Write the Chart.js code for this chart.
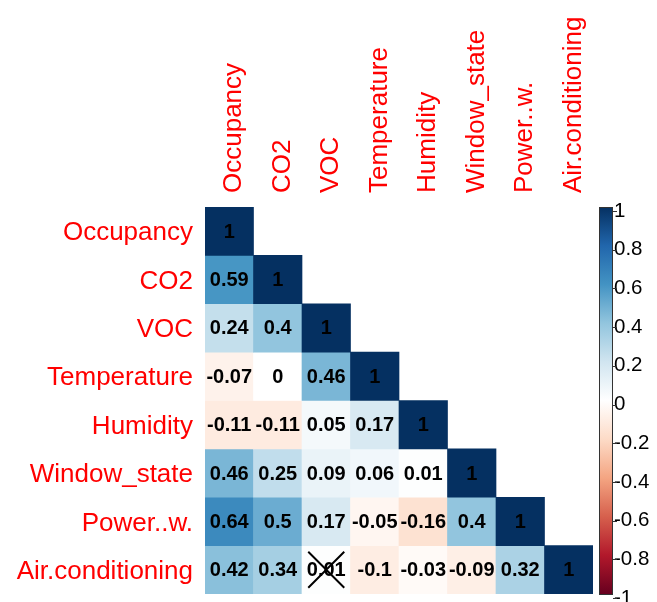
<!DOCTYPE html>
<html>
<head>
<meta charset="utf-8">
<script src="https://cdn.jsdelivr.net/npm/chart.js@4.4.1/dist/chart.umd.min.js"></script>
<style>
  html, body { margin: 0; padding: 0; background: #ffffff; }
  #wrap { width: 657px; height: 602px; }
</style>
</head>
<body>
<div id="wrap"><canvas id="corr" width="657" height="602"></canvas></div>
<script>
// Variables, in matrix order
const variables = ['Occupancy', 'CO2', 'VOC', 'Temperature', 'Humidity', 'Window_state', 'Power..w.', 'Air.conditioning'];

// Lower-triangle correlation coefficients, one row per variable
const occupancyRow   = [1];
const co2Row         = [0.59, 1];
const vocRow         = [0.24, 0.4, 1];
const temperatureRow = [-0.07, 0, 0.46, 1];
const humidityRow    = [-0.11, -0.11, 0.05, 0.17, 1];
const windowRow      = [0.46, 0.25, 0.09, 0.06, 0.01, 1];
const powerRow       = [0.64, 0.5, 0.17, -0.05, -0.16, 0.4, 1];
const airconRow      = [0.42, 0.34, 0.01, -0.1, -0.03, -0.09, 0.32, 1];

// Pairs (row, column) whose correlation is not significant
const insignificantPairs = [[7, 2]];

// Colour legend tick values
const legendTicks = [1, 0.8, 0.6, 0.4, 0.2, 0, -0.2, -0.4, -0.6, -0.8, -1];

// Diverging red-white-blue palette from -1 to 1
const palette = ['#67001F', '#B2182B', '#D6604D', '#F4A582', '#FDDBC7', '#FFFFFF',
                 '#D1E5F0', '#92C5DE', '#4393C3', '#2166AC', '#053061'];

const matrix = [occupancyRow, co2Row, vocRow, temperatureRow, humidityRow, windowRow, powerRow, airconRow];

function hexToRgb(h) {
  return [parseInt(h.slice(1, 3), 16), parseInt(h.slice(3, 5), 16), parseInt(h.slice(5, 7), 16)];
}
function colorFor(v) {
  if (typeof v !== 'number') return 'rgba(0,0,0,0)';
  const t = Math.max(0, Math.min(1, (v + 1) / 2)) * (palette.length - 1);
  const i = Math.min(palette.length - 2, Math.floor(t));
  const f = t - i;
  const a = hexToRgb(palette[i]), b = hexToRgb(palette[i + 1]);
  const c = a.map((x, k) => Math.round(x + (b[k] - x) * f));
  return `rgb(${c[0]},${c[1]},${c[2]})`;
}

const FONT = '"Liberation Sans", Arial, sans-serif';

// Axis boxes keep exactly the size they are given
function fixBox(size) {
  return scale => {
    if (scale.isHorizontal()) scale.height = size; else scale.width = size;
    scale.paddingTop = scale.paddingBottom = scale.paddingLeft = scale.paddingRight = 0;
  };
}

// One floating-bar dataset per matrix row; each bar spans one row band
const datasets = matrix.map((row, i) => ({
  label: variables[i],
  data: variables.map((_, j) => (j < row.length ? [i - 0.5, i + 0.5] : null)),
  backgroundColor: ctx => colorFor(row[ctx.dataIndex]),
  borderWidth: 0,
  grouped: false,
  barPercentage: 1,
  categoryPercentage: 1
}));

// Coefficient text, insignificance crosses and the colour bar
const corrDecorations = {
  id: 'corrDecorations',
  afterDatasetsDraw(chart) {
    const ctx = chart.ctx;
    ctx.save();
    ctx.font = `bold 20px ${FONT}`;
    ctx.fillStyle = '#000000';
    ctx.textAlign = 'center';
    ctx.textBaseline = 'middle';
    matrix.forEach((row, i) => {
      const meta = chart.getDatasetMeta(i);
      row.forEach((v, j) => {
        const el = meta.data[j];
        const cy = (el.y + el.base) / 2;
        ctx.fillText(String(v), el.x, cy + 1);
      });
    });

    ctx.strokeStyle = '#000000';
    ctx.lineWidth = 2;
    insignificantPairs.forEach(([i, j]) => {
      const el = chart.getDatasetMeta(i).data[j];
      const cx = el.x, cy = (el.y + el.base) / 2;
      const r = 18;
      ctx.beginPath();
      ctx.moveTo(cx - r, cy - r); ctx.lineTo(cx + r, cy + r);
      ctx.moveTo(cx + r, cy - r); ctx.lineTo(cx - r, cy + r);
      ctx.stroke();
    });

    // Colour bar along the legend scale
    const s = chart.scales.legend;
    const top = s.getPixelForValue(1), bottom = s.getPixelForValue(-1);
    const x0 = chart.chartArea.right + 6, w = 14;
    const grad = ctx.createLinearGradient(0, bottom, 0, top);
    palette.forEach((c, k) => grad.addColorStop(k / (palette.length - 1), c));
    ctx.fillStyle = grad;
    ctx.fillRect(x0, top, w, bottom - top);
    ctx.strokeStyle = '#333333';
    ctx.lineWidth = 1;
    ctx.strokeRect(x0 + 0.5, top + 0.5, w - 1, bottom - top);
    ctx.beginPath();
    legendTicks.forEach(v => {
      const y = Math.round(s.getPixelForValue(v) + s.options.ticks.labelOffset) + 0.5;
      ctx.moveTo(x0 + w, y); ctx.lineTo(x0 + w + 4, y);
    });
    ctx.stroke();
    ctx.restore();
  }
};

new Chart(document.getElementById('corr'), {
  type: 'bar',
  data: { labels: variables, datasets },
  options: {
    responsive: false,
    animation: false,
    events: [],
    layout: { padding: { left: 0, right: 0, top: 0, bottom: 8 } },
    plugins: { legend: { display: false }, tooltip: { enabled: false } },
    scales: {
      x: {
        type: 'category',
        position: 'top',
        grid: { display: false, drawTicks: false },
        border: { display: false },
        ticks: {
          color: '#FF0000',
          font: { family: FONT, size: 26 },
          minRotation: 90,
          maxRotation: 90,
          autoSkip: false,
          padding: 14,
          labelOffset: 36
        },
        afterFit: fixBox(207)
      },
      y: {
        type: 'linear',
        position: 'left',
        reverse: true,
        min: -0.5,
        max: 7.5,
        grid: { display: false, drawTicks: false },
        border: { display: false },
        afterBuildTicks(scale) { scale.ticks = variables.map((_, i) => ({ value: i })); },
        ticks: {
          color: '#FF0000',
          font: { family: FONT, size: 26 },
          autoSkip: false,
          padding: 12,
          labelOffset: 2,
          callback: v => variables[v]
        },
        afterFit: fixBox(205)
      },
      legend: {
        type: 'linear',
        position: 'right',
        min: -1,
        max: 1,
        grid: { display: false, drawTicks: false },
        border: { display: false },
        afterBuildTicks(scale) { scale.ticks = legendTicks.map(v => ({ value: v })); },
        ticks: {
          color: '#000000',
          font: { family: FONT, size: 20.5 },
          autoSkip: false,
          padding: 21,
          labelOffset: 4,
          callback: v => String(v)
        },
        afterFit: fixBox(64)
      }
    }
  },
  plugins: [corrDecorations]
});
</script>
</body>
</html>
